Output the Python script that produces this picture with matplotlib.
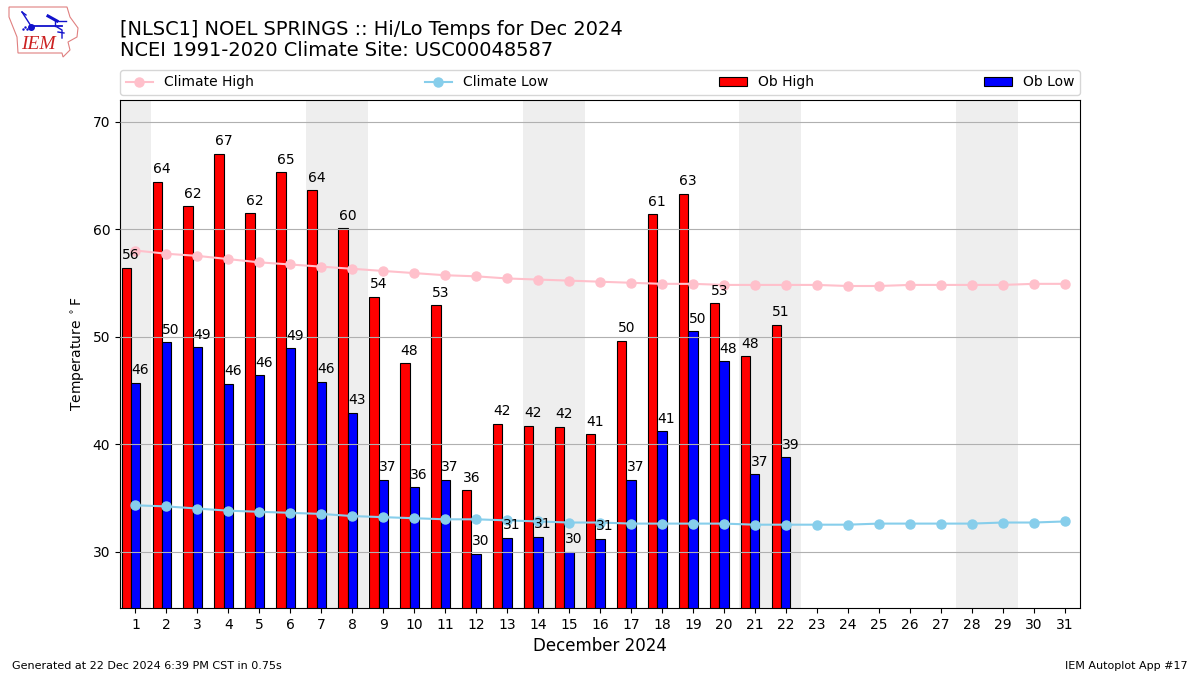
import matplotlib
matplotlib.use('Agg')
import matplotlib.pyplot as plt
import numpy as np
from matplotlib.patches import Polygon

days = np.arange(1, 32)
climate_high = [58.0,57.7,57.5,57.2,56.9,56.7,56.5,56.3,56.1,55.9,55.7,55.6,55.4,55.3,55.2,55.1,55.0,54.9,54.9,54.8,54.8,54.8,54.8,54.7,54.7,54.8,54.8,54.8,54.8,54.9,54.9]
climate_low = [34.3,34.2,34.0,33.8,33.7,33.6,33.5,33.3,33.2,33.1,33.0,33.0,32.9,32.8,32.7,32.7,32.6,32.6,32.6,32.6,32.5,32.5,32.5,32.5,32.6,32.6,32.6,32.6,32.7,32.7,32.8]
ob_high = [56.4,64.4,62.1,67.0,61.5,65.3,63.6,60.1,53.7,47.5,52.9,35.7,41.9,41.7,41.6,40.9,49.6,61.4,63.3,53.1,48.2,51.1]
ob_low = [45.7,49.5,49.0,45.6,46.4,48.9,45.8,42.9,36.7,36.0,36.7,29.8,31.3,31.4,30.0,31.2,36.7,41.2,50.5,47.7,37.2,38.8]
high_labels = [56,64,62,67,62,65,64,60,54,48,53,36,42,42,42,41,50,61,63,53,48,51]
low_labels = [46,50,49,46,46,49,46,43,37,36,37,30,31,31,30,31,37,41,50,48,37,39]
weekend_starts = [0.5,6.5,13.5,20.5,27.5]
weekend_ends = [1.5,8.5,15.5,22.5,29.5]

fig = plt.figure(figsize=(12, 6.75), dpi=100)
ax = fig.add_axes([120/1200, 1-608/675, 960/1200, 508/675])
for s, e in zip(weekend_starts, weekend_ends):
    ax.axvspan(s, e, color='#eeeeee', lw=0, zorder=0)
ax.yaxis.grid(True, color='#b0b0b0', lw=0.8)
ax.set_axisbelow(False)
d = np.arange(1, 23)
w = 0.3
ax.bar(d-0.3, ob_high, w, color='red', edgecolor='k', lw=0.8, label='Ob High', zorder=2)
ax.bar(d, ob_low, w, color='blue', edgecolor='k', lw=0.8, label='Ob Low', zorder=2)
ax.plot(days, climate_high, '-o', color='pink', label='Climate High', zorder=3, lw=1.5, ms=6.5)
ax.plot(days, climate_low, '-o', color='skyblue', label='Climate Low', zorder=3, lw=1.5, ms=6.5)
for x, v, t in zip(d, ob_high, high_labels):
    ax.text(x-0.15, v+0.5, str(t), ha='center', va='bottom', fontsize=10, zorder=4)
for x, v, t in zip(d, ob_low, low_labels):
    ax.text(x+0.15, v+0.5, str(t), ha='center', va='bottom', fontsize=10, zorder=4)
ax.set_xlim(0.5, 31.5)
ax.set_ylim(24.75, 72.0)
ax.set_xticks(days)
ax.set_yticks([30,40,50,60,70])
ax.tick_params(labelsize=10)
ax.set_xlabel('December 2024', fontsize=12)
ax.set_ylabel('Temperature $^\\circ$F', fontsize=10)
h, l = ax.get_legend_handles_labels()
order = [l.index(n) for n in ['Climate High','Climate Low','Ob High','Ob Low']]
fig.legend([h[i] for i in order], [l[i] for i in order], ncol=4, mode='expand', loc='lower left',
           bbox_to_anchor=(120/1200, 1-95/675, 960/1200, 26/675), borderaxespad=0, fontsize=10)
fig.text(120/1200, 1-29.5/675, '[NLSC1] NOEL SPRINGS :: Hi/Lo Temps for Dec 2024', fontsize=13.97, va='center')
fig.text(120/1200, 1-50.5/675, 'NCEI 1991-2020 Climate Site: USC00048587', fontsize=13.97, va='center')
fig.text(12/1200, 1-666/675, 'Generated at 22 Dec 2024 6:39 PM CST in 0.75s', fontsize=8, va='center')
fig.text(1188/1200, 1-666/675, 'IEM Autoplot App #17', fontsize=8, va='center', ha='right')
# logo (pixel coordinates of the reference)
lax = fig.add_axes([0, 1-62/675, 85/1200, 62/675]); lax.axis('off'); lax.set_xlim(0,85); lax.set_ylim(62,0)
outline_x = [9,67,70,78,77,68,70,63,62,18,17,9]
outline_y = [7,7,17,28,37,42,50,57,53,53,37,17]
lax.add_patch(Polygon(np.column_stack([outline_x,outline_y]), fill=False, ec='#e08080', lw=0.8))
blue = '#1111cc'
lax.plot([32,62],[26,26],color=blue,lw=1.3)
lax.plot([22,31],[12,26],color=blue,lw=1)
lax.plot([22,26],[12,15],color=blue,lw=1)
lax.plot([48,57],[16,21],color=blue,lw=2.2)
lax.plot([57,66],[21,21],color=blue,lw=1)
lax.plot([55,55],[21,26],color=blue,lw=1)
lax.plot([57,62,62],[27,30,38],color=blue,lw=1)
lax.plot([58,64],[32,33],color=blue,lw=1)
lax.plot([31],[27],'o',color=blue,ms=4)
lax.plot([23,25,27],[29,27,29],'.',color=blue,ms=1.5)
lax.text(21,44.5,'IEM',color='#cc2222',fontsize=14,family='Liberation Serif',style='italic',va='center')
fig.savefig('out.png', dpi=100)
